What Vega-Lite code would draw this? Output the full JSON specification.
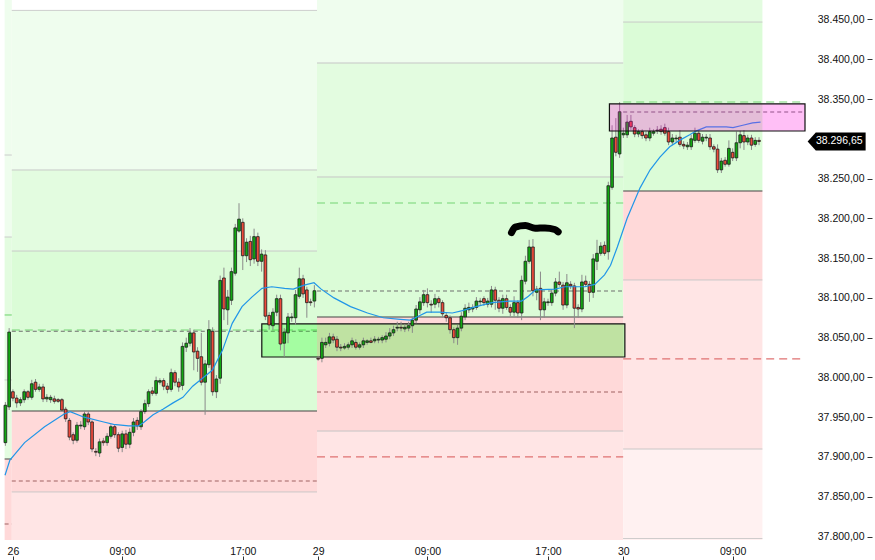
{
"$schema":"https://vega.github.io/schema/vega-lite/v6.json",
"width":810,"height":540,
"autosize":{"type":"none"},
"padding":{"left":0,"top":0,"right":65,"bottom":20},
"background":"white",
"config":{"view":{"stroke":null},"font":"Liberation Sans","locale":{"number":{"decimal":",","thousands":".","grouping":[3],"currency":["","€"]}},
 "axisX":{"orient":"bottom","labelExpr":"datum.value == 0 ? '26' : datum.value == 81 ? '29' : datum.value == 162 ? '30' : (datum.value == 29 || datum.value == 110 || datum.value == 191) ? '09:00' : '17:00'","offset":16,"tickSize":4,"labelPadding":-9,"labelBaseline":"middle","labelAlign":"center","labelFlush":false,"labelOverlap":false,"domain":false,"grid":false,"title":null,"labelFontSize":10.5,"labelColor":"#111","tickColor":"#333"},
 "axisY":{"orient":"right","format":",.2f","offset":57,"tickSize":5,"labelPadding":-8,"labelAlign":"right","labelBaseline":"middle","labelOverlap":false,"domain":false,"grid":false,"title":null,"labelFontSize":10.5,"labelColor":"#111","tickColor":"#333"}
},
"datasets":{
"zones":[
{"x1":-2.2,"x2":-0.3,"p1":38474.5,"p2":38176.5,"z":"G3"},
{"x1":-2.2,"x2":-0.3,"p1":38176.5,"p2":37897.4,"z":"G2"},
{"x1":-2.2,"x2":-0.3,"p1":37897.4,"p2":37795.6,"z":"R1"},
{"x1":-0.3,"x2":80.7,"p1":38461.4,"p2":38260.8,"z":"G3"},
{"x1":-0.3,"x2":80.7,"p1":38260.8,"p2":38158.9,"z":"G2"},
{"x1":-0.3,"x2":80.7,"p1":38158.9,"p2":37957.8,"z":"G1"},
{"x1":-0.3,"x2":80.7,"p1":37957.8,"p2":37856.0,"z":"R1"},
{"x1":-0.3,"x2":80.7,"p1":37856.0,"p2":37795.6,"z":"R2"},
{"x1":80.7,"x2":161.95,"p1":38474.5,"p2":38395.3,"z":"G3"},
{"x1":80.7,"x2":161.95,"p1":38395.3,"p2":38252.0,"z":"G2"},
{"x1":80.7,"x2":161.95,"p1":38252.0,"p2":38076.0,"z":"G1"},
{"x1":80.7,"x2":161.95,"p1":38076.0,"p2":37932.6,"z":"R1"},
{"x1":80.7,"x2":161.95,"p1":37932.6,"p2":37795.6,"z":"R2"},
{"x1":161.95,"x2":198.9,"p1":38474.5,"p2":38446.8,"z":"G2"},
{"x1":161.95,"x2":198.9,"p1":38446.8,"p2":38234.4,"z":"G1"},
{"x1":161.95,"x2":198.9,"p1":38234.4,"p2":38122.5,"z":"R1"},
{"x1":161.95,"x2":198.9,"p1":38122.5,"p2":37910.0,"z":"R2"},
{"x1":161.95,"x2":198.9,"p1":37910.0,"p2":37795.6,"z":"R3"}
],
"lines":[
{"x1":-0.3,"x2":80.7,"p":38461.4,"s":"gray"},
{"x1":-0.3,"x2":80.7,"p":38260.8,"s":"gray"},
{"x1":-0.3,"x2":80.7,"p":38158.9,"s":"gray"},
{"x1":-0.3,"x2":80.7,"p":37856.0,"s":"gray"},
{"x1":-0.3,"x2":80.7,"p":37957.8,"s":"dark"},
{"x1":80.7,"x2":161.95,"p":38395.3,"s":"gray"},
{"x1":80.7,"x2":161.95,"p":38252.0,"s":"gray"},
{"x1":80.7,"x2":161.95,"p":37932.6,"s":"gray"},
{"x1":80.7,"x2":161.95,"p":38076.0,"s":"dark"},
{"x1":161.95,"x2":198.9,"p":38446.8,"s":"gray"},
{"x1":161.95,"x2":198.9,"p":38122.5,"s":"gray"},
{"x1":161.95,"x2":198.9,"p":37910.0,"s":"gray"},
{"x1":161.95,"x2":198.9,"p":37797.5,"s":"gray"},
{"x1":161.95,"x2":198.9,"p":38234.4,"s":"dark"},
{"x1":-2.2,"x2":-0.3,"p":38279.6,"s":"gray"},
{"x1":-2.2,"x2":-0.3,"p":38176.5,"s":"gray"},
{"x1":-2.2,"x2":-0.3,"p":37996.8,"s":"gray"},
{"x1":-2.2,"x2":-0.3,"p":37897.4,"s":"dark"},
{"x1":-2.2,"x2":-0.3,"p":38078.5,"s":"gdash"},
{"x1":-0.3,"x2":80.7,"p":38059.6,"s":"gdash"},
{"x1":80.7,"x2":161.95,"p":38219.3,"s":"gdash"},
{"x1":161.95,"x2":210.2,"p":38346.3,"s":"gdash"},
{"x1":-0.3,"x2":80.7,"p":38058.0,"s":"kdash"},
{"x1":80.7,"x2":161.95,"p":38108.6,"s":"kdash"},
{"x1":161.95,"x2":210.2,"p":38333.7,"s":"kdash"},
{"x1":-0.3,"x2":80.7,"p":37869.8,"s":"rkdash"},
{"x1":80.7,"x2":161.95,"p":37981.7,"s":"rkdash"},
{"x1":-2.2,"x2":-0.3,"p":37815.7,"s":"rkdash"},
{"x1":80.7,"x2":161.95,"p":37900.0,"s":"rdash"},
{"x1":161.95,"x2":210.2,"p":38023.2,"s":"rdash"}
],
"boxes":[
{"x1":66.05,"x2":162.4,"p1":38067.2,"p2":38025.7,"b":"g"},
{"x1":158.3,"x2":210.2,"p1":38343.8,"p2":38309.8,"b":"p"}
],
"candles":[
{"i":-2,"o":37918,"h":37969,"l":37914,"c":37965},
{"i":-1,"o":37963,"h":38062,"l":37959,"c":38057},
{"i":0,"o":37982,"h":37985,"l":37970,"c":37974},
{"i":1,"o":37974,"h":37978,"l":37962,"c":37968},
{"i":2,"o":37968,"h":37975,"l":37964,"c":37972},
{"i":3,"o":37972,"h":37985,"l":37968,"c":37982},
{"i":4,"o":37982,"h":37984,"l":37972,"c":37975},
{"i":5,"o":37975,"h":37997,"l":37972,"c":37992},
{"i":6,"o":37994,"h":37998,"l":37982,"c":37985},
{"i":7,"o":37985,"h":37992,"l":37982,"c":37988},
{"i":8,"o":37988,"h":37992,"l":37969,"c":37973},
{"i":9,"o":37973,"h":37979,"l":37969,"c":37975},
{"i":10,"o":37972,"h":37978,"l":37968,"c":37975},
{"i":11,"o":37973,"h":37977,"l":37967,"c":37970},
{"i":12,"o":37972,"h":37974,"l":37968,"c":37970},
{"i":13,"o":37972,"h":37974,"l":37957,"c":37959},
{"i":14,"o":37960,"h":37963,"l":37944,"c":37948},
{"i":15,"o":37946,"h":37949,"l":37921,"c":37925},
{"i":16,"o":37928,"h":37931,"l":37916,"c":37921},
{"i":17,"o":37921,"h":37944,"l":37918,"c":37940},
{"i":18,"o":37939,"h":37945,"l":37935,"c":37940},
{"i":19,"o":37938,"h":37958,"l":37934,"c":37954},
{"i":20,"o":37954,"h":37958,"l":37940,"c":37944},
{"i":21,"o":37944,"h":37946,"l":37906,"c":37910},
{"i":22,"o":37907,"h":37911,"l":37901,"c":37906},
{"i":23,"o":37905,"h":37923,"l":37900,"c":37919},
{"i":24,"o":37920,"h":37924,"l":37914,"c":37918},
{"i":25,"o":37918,"h":37930,"l":37914,"c":37926},
{"i":26,"o":37926,"h":37941,"l":37923,"c":37938},
{"i":27,"o":37938,"h":37941,"l":37924,"c":37928},
{"i":28,"o":37928,"h":37931,"l":37906,"c":37911},
{"i":29,"o":37912,"h":37933,"l":37906,"c":37929},
{"i":30,"o":37929,"h":37934,"l":37910,"c":37916},
{"i":31,"o":37916,"h":37936,"l":37911,"c":37931},
{"i":32,"o":37931,"h":37949,"l":37926,"c":37944},
{"i":33,"o":37946,"h":37950,"l":37934,"c":37939},
{"i":34,"o":37938,"h":37960,"l":37934,"c":37957},
{"i":35,"o":37957,"h":37972,"l":37954,"c":37967},
{"i":36,"o":37967,"h":37985,"l":37963,"c":37982},
{"i":37,"o":37983,"h":37988,"l":37977,"c":37980},
{"i":38,"o":37980,"h":38001,"l":37977,"c":37996},
{"i":39,"o":37994,"h":37999,"l":37991,"c":37996},
{"i":40,"o":37996,"h":37999,"l":37984,"c":37989},
{"i":41,"o":37989,"h":37993,"l":37980,"c":37985},
{"i":42,"o":37985,"h":38011,"l":37982,"c":38006},
{"i":43,"o":38006,"h":38009,"l":37989,"c":37994},
{"i":44,"o":37994,"h":37999,"l":37982,"c":37988},
{"i":45,"o":37990,"h":38044,"l":37984,"c":38039},
{"i":46,"o":38038,"h":38050,"l":38032,"c":38043},
{"i":47,"o":38043,"h":38062,"l":38039,"c":38056},
{"i":48,"o":38056,"h":38060,"l":38009,"c":38032},
{"i":49,"o":38033,"h":38038,"l":38007,"c":38024},
{"i":50,"o":38026,"h":38056,"l":37990,"c":37994},
{"i":51,"o":37994,"h":38022,"l":37953,"c":38017},
{"i":52,"o":38016,"h":38072,"l":38012,"c":38060},
{"i":53,"o":38058,"h":38063,"l":37977,"c":37982},
{"i":54,"o":37982,"h":38003,"l":37974,"c":37998},
{"i":55,"o":37999,"h":38128,"l":37992,"c":38122},
{"i":56,"o":38125,"h":38138,"l":38072,"c":38086},
{"i":57,"o":38085,"h":38110,"l":38066,"c":38101},
{"i":58,"o":38097,"h":38138,"l":38091,"c":38133},
{"i":59,"o":38131,"h":38193,"l":38128,"c":38188},
{"i":60,"o":38184,"h":38219,"l":38182,"c":38199},
{"i":61,"o":38195,"h":38200,"l":38135,"c":38153},
{"i":62,"o":38153,"h":38175,"l":38145,"c":38170},
{"i":63,"o":38171,"h":38178,"l":38140,"c":38148},
{"i":64,"o":38149,"h":38187,"l":38143,"c":38177},
{"i":65,"o":38177,"h":38182,"l":38140,"c":38146},
{"i":66,"o":38146,"h":38161,"l":38133,"c":38155},
{"i":67,"o":38154,"h":38160,"l":38072,"c":38077},
{"i":68,"o":38078,"h":38082,"l":38060,"c":38066},
{"i":69,"o":38065,"h":38087,"l":38060,"c":38082},
{"i":70,"o":38082,"h":38104,"l":38077,"c":38099},
{"i":71,"o":38099,"h":38104,"l":38034,"c":38042},
{"i":72,"o":38043,"h":38062,"l":38026,"c":38057},
{"i":73,"o":38056,"h":38081,"l":38043,"c":38076},
{"i":74,"o":38075,"h":38081,"l":38070,"c":38076},
{"i":75,"o":38075,"h":38110,"l":38066,"c":38104},
{"i":76,"o":38102,"h":38138,"l":38099,"c":38124},
{"i":77,"o":38124,"h":38129,"l":38100,"c":38105},
{"i":78,"o":38110,"h":38114,"l":38075,"c":38094},
{"i":79,"o":38095,"h":38099,"l":38090,"c":38094},
{"i":80,"o":38096,"h":38116,"l":38088,"c":38109},
{"i":81,"o":38024,"h":38027,"l":38021,"c":38023},
{"i":82,"o":38024,"h":38050,"l":38019,"c":38044},
{"i":83,"o":38041,"h":38050,"l":38037,"c":38044},
{"i":84,"o":38043,"h":38056,"l":38039,"c":38051},
{"i":85,"o":38051,"h":38055,"l":38043,"c":38047},
{"i":86,"o":38048,"h":38052,"l":38033,"c":38038},
{"i":87,"o":38038,"h":38042,"l":38033,"c":38037},
{"i":88,"o":38037,"h":38043,"l":38035,"c":38039},
{"i":89,"o":38038,"h":38044,"l":38035,"c":38041},
{"i":90,"o":38041,"h":38050,"l":38037,"c":38046},
{"i":91,"o":38044,"h":38048,"l":38035,"c":38038},
{"i":92,"o":38038,"h":38044,"l":38035,"c":38041},
{"i":93,"o":38041,"h":38050,"l":38037,"c":38046},
{"i":94,"o":38044,"h":38048,"l":38041,"c":38046},
{"i":95,"o":38046,"h":38050,"l":38043,"c":38044},
{"i":96,"o":38046,"h":38052,"l":38043,"c":38048},
{"i":97,"o":38047,"h":38051,"l":38043,"c":38048},
{"i":98,"o":38047,"h":38053,"l":38043,"c":38050},
{"i":99,"o":38048,"h":38057,"l":38044,"c":38052},
{"i":100,"o":38052,"h":38062,"l":38048,"c":38056},
{"i":101,"o":38056,"h":38065,"l":38052,"c":38060},
{"i":102,"o":38062,"h":38070,"l":38058,"c":38063},
{"i":103,"o":38063,"h":38070,"l":38058,"c":38062},
{"i":104,"o":38061,"h":38067,"l":38057,"c":38063},
{"i":105,"o":38062,"h":38070,"l":38058,"c":38065},
{"i":106,"o":38065,"h":38076,"l":38056,"c":38072},
{"i":107,"o":38072,"h":38091,"l":38068,"c":38086},
{"i":108,"o":38085,"h":38101,"l":38080,"c":38095},
{"i":109,"o":38094,"h":38110,"l":38090,"c":38104},
{"i":110,"o":38104,"h":38112,"l":38088,"c":38094},
{"i":111,"o":38092,"h":38097,"l":38081,"c":38091},
{"i":112,"o":38092,"h":38105,"l":38087,"c":38099},
{"i":113,"o":38099,"h":38102,"l":38088,"c":38094},
{"i":114,"o":38094,"h":38097,"l":38075,"c":38080},
{"i":115,"o":38078,"h":38082,"l":38070,"c":38075},
{"i":116,"o":38075,"h":38078,"l":38055,"c":38060},
{"i":117,"o":38060,"h":38063,"l":38043,"c":38050},
{"i":118,"o":38050,"h":38066,"l":38041,"c":38062},
{"i":119,"o":38062,"h":38082,"l":38058,"c":38077},
{"i":120,"o":38076,"h":38092,"l":38072,"c":38087},
{"i":121,"o":38085,"h":38094,"l":38081,"c":38088},
{"i":122,"o":38086,"h":38092,"l":38082,"c":38088},
{"i":123,"o":38088,"h":38101,"l":38085,"c":38096},
{"i":124,"o":38095,"h":38100,"l":38091,"c":38096},
{"i":125,"o":38099,"h":38102,"l":38090,"c":38094},
{"i":126,"o":38092,"h":38100,"l":38088,"c":38096},
{"i":127,"o":38092,"h":38115,"l":38088,"c":38110},
{"i":128,"o":38110,"h":38114,"l":38085,"c":38097},
{"i":129,"o":38097,"h":38101,"l":38082,"c":38087},
{"i":130,"o":38087,"h":38104,"l":38080,"c":38099},
{"i":131,"o":38099,"h":38104,"l":38085,"c":38088},
{"i":132,"o":38088,"h":38092,"l":38077,"c":38082},
{"i":133,"o":38082,"h":38102,"l":38077,"c":38094},
{"i":134,"o":38094,"h":38097,"l":38075,"c":38081},
{"i":135,"o":38081,"h":38128,"l":38072,"c":38122},
{"i":136,"o":38121,"h":38153,"l":38117,"c":38146},
{"i":137,"o":38146,"h":38173,"l":38143,"c":38164},
{"i":138,"o":38164,"h":38174,"l":38102,"c":38109},
{"i":139,"o":38107,"h":38115,"l":38097,"c":38111},
{"i":140,"o":38112,"h":38133,"l":38072,"c":38085},
{"i":141,"o":38085,"h":38100,"l":38075,"c":38095},
{"i":142,"o":38094,"h":38099,"l":38090,"c":38095},
{"i":143,"o":38094,"h":38111,"l":38090,"c":38106},
{"i":144,"o":38106,"h":38125,"l":38102,"c":38120},
{"i":145,"o":38120,"h":38133,"l":38114,"c":38117},
{"i":146,"o":38116,"h":38120,"l":38085,"c":38091},
{"i":147,"o":38091,"h":38130,"l":38087,"c":38119},
{"i":148,"o":38117,"h":38121,"l":38111,"c":38115},
{"i":149,"o":38115,"h":38119,"l":38062,"c":38087},
{"i":150,"o":38088,"h":38092,"l":38075,"c":38086},
{"i":151,"o":38086,"h":38129,"l":38082,"c":38120},
{"i":152,"o":38121,"h":38128,"l":38114,"c":38117},
{"i":153,"o":38117,"h":38121,"l":38095,"c":38107},
{"i":154,"o":38107,"h":38155,"l":38100,"c":38149},
{"i":155,"o":38146,"h":38173,"l":38135,"c":38156},
{"i":156,"o":38156,"h":38170,"l":38153,"c":38165},
{"i":157,"o":38166,"h":38171,"l":38153,"c":38156},
{"i":158,"o":38158,"h":38246,"l":38148,"c":38241},
{"i":159,"o":38239,"h":38317,"l":38236,"c":38301},
{"i":160,"o":38302,"h":38326,"l":38278,"c":38283},
{"i":161,"o":38281,"h":38346,"l":38276,"c":38334},
{"i":162,"o":38305,"h":38314,"l":38301,"c":38307},
{"i":163,"o":38305,"h":38330,"l":38301,"c":38321},
{"i":164,"o":38322,"h":38330,"l":38311,"c":38315},
{"i":165,"o":38314,"h":38317,"l":38302,"c":38306},
{"i":166,"o":38306,"h":38312,"l":38302,"c":38309},
{"i":167,"o":38309,"h":38312,"l":38300,"c":38304},
{"i":168,"o":38305,"h":38309,"l":38297,"c":38301},
{"i":169,"o":38301,"h":38314,"l":38297,"c":38309},
{"i":170,"o":38307,"h":38312,"l":38304,"c":38309},
{"i":171,"o":38310,"h":38316,"l":38306,"c":38311},
{"i":172,"o":38312,"h":38317,"l":38305,"c":38309},
{"i":173,"o":38314,"h":38319,"l":38304,"c":38307},
{"i":174,"o":38309,"h":38314,"l":38292,"c":38296},
{"i":175,"o":38296,"h":38306,"l":38292,"c":38301},
{"i":176,"o":38300,"h":38305,"l":38296,"c":38301},
{"i":177,"o":38302,"h":38311,"l":38290,"c":38293},
{"i":178,"o":38293,"h":38297,"l":38287,"c":38291},
{"i":179,"o":38290,"h":38296,"l":38286,"c":38292},
{"i":180,"o":38290,"h":38305,"l":38286,"c":38300},
{"i":181,"o":38298,"h":38314,"l":38295,"c":38307},
{"i":182,"o":38307,"h":38311,"l":38295,"c":38298},
{"i":183,"o":38297,"h":38306,"l":38293,"c":38302},
{"i":184,"o":38301,"h":38306,"l":38297,"c":38302},
{"i":185,"o":38301,"h":38306,"l":38286,"c":38290},
{"i":186,"o":38290,"h":38293,"l":38283,"c":38287},
{"i":187,"o":38287,"h":38293,"l":38257,"c":38261},
{"i":188,"o":38261,"h":38276,"l":38257,"c":38272},
{"i":189,"o":38273,"h":38277,"l":38265,"c":38268},
{"i":190,"o":38268,"h":38298,"l":38265,"c":38288},
{"i":191,"o":38283,"h":38288,"l":38272,"c":38276},
{"i":192,"o":38276,"h":38309,"l":38272,"c":38295},
{"i":193,"o":38295,"h":38310,"l":38288,"c":38305},
{"i":194,"o":38304,"h":38311,"l":38286,"c":38296},
{"i":195,"o":38296,"h":38305,"l":38292,"c":38301},
{"i":196,"o":38301,"h":38305,"l":38286,"c":38292},
{"i":197,"o":38293,"h":38302,"l":38290,"c":38298},
{"i":198,"o":38298,"h":38302,"l":38292,"c":38296.65}
],
"ma":[{"i":-2.1,"p":37877},{"i":-0.8,"p":37896},{"i":3.1,"p":37918},{"i":8.4,"p":37938},{"i":13.6,"p":37954},{"i":15.2,"p":37957},{"i":18.9,"p":37950},{"i":24.1,"p":37944},{"i":26.7,"p":37941},{"i":30.7,"p":37939},{"i":33.3,"p":37939},{"i":34.6,"p":37943},{"i":37.2,"p":37953},{"i":39.8,"p":37960},{"i":42.5,"p":37968},{"i":45.1,"p":37975},{"i":47.7,"p":37989},{"i":50.3,"p":37999},{"i":52.9,"p":38009},{"i":55.6,"p":38034},{"i":58.2,"p":38068},{"i":60.8,"p":38089},{"i":63.4,"p":38101},{"i":66.1,"p":38112},{"i":68.7,"p":38114},{"i":72.1,"p":38112},{"i":74.4,"p":38111},{"i":77.3,"p":38116},{"i":79.9,"p":38119},{"i":81.8,"p":38111},{"i":85.2,"p":38100},{"i":89.6,"p":38089},{"i":94.1,"p":38081},{"i":98.3,"p":38075},{"i":102.8,"p":38073},{"i":105.4,"p":38072},{"i":107.2,"p":38076},{"i":109.8,"p":38082},{"i":113.2,"p":38082},{"i":116.6,"p":38081},{"i":119.3,"p":38084},{"i":122.9,"p":38089},{"i":127.1,"p":38094},{"i":131.6,"p":38096},{"i":135.0,"p":38096},{"i":136.8,"p":38102},{"i":138.7,"p":38110},{"i":143.9,"p":38111},{"i":146.5,"p":38114},{"i":151.8,"p":38114},{"i":154.4,"p":38117},{"i":157.0,"p":38129},{"i":158.6,"p":38141},{"i":160.4,"p":38164},{"i":163.0,"p":38200},{"i":166.4,"p":38238},{"i":169.1,"p":38261},{"i":171.7,"p":38277},{"i":174.3,"p":38290},{"i":176.9,"p":38298},{"i":179.6,"p":38305},{"i":181.4,"p":38310},{"i":184.0,"p":38315},{"i":186.6,"p":38315},{"i":189.3,"p":38315},{"i":191.1,"p":38314},{"i":193.7,"p":38317},{"i":196.3,"p":38320},{"i":198.4,"p":38321}],
"squiggle":[{"i":132.3,"p":38182},{"i":133.3,"p":38189},{"i":136.0,"p":38191},{"i":138.6,"p":38187.5},{"i":141.2,"p":38188},{"i":143.8,"p":38186},{"i":144.7,"p":38183}],
"last":[{"p":38296.65}]
},
"layer":[
{"data":{"name":"zones"},
 "mark":{"type":"rect","clip":true},
 "encoding":{
  "x":{"field":"x1","type":"quantitative","title":null,"axis":{"values":[0,29,61,81,110,142,162,191],"labelFlush":false,"labelAlign":"center"},"scale":{"domain":[-2.1,210.2],"nice":false,"zero":false}},
  "x2":{"field":"x2"},
  "y":{"field":"p1","type":"quantitative","title":null,"axis":{"values":[37800,37850,37900,37950,38000,38050,38100,38150,38200,38250,38350,38400,38450]},"scale":{"domain":[37795.6,38474.5],"nice":false,"zero":false}},
  "y2":{"field":"p2"},
  "fill":{"field":"z","type":"nominal","scale":{"domain":["G1","G2","G3","R1","R2","R3"],"range":["#dbfcd7","#e3fce0","#effdee","#ffd9d9","#ffe5e5","#fff1f1"]},"legend":null}
 }},
{"data":{"name":"lines"},
 "mark":{"type":"rule","clip":true},
 "encoding":{
  "x":{"field":"x1","type":"quantitative","title":null,"axis":{"values":[0,29,61,81,110,142,162,191],"labelFlush":false,"labelAlign":"center"},"scale":{"domain":[-2.1,210.2],"nice":false,"zero":false}},
  "x2":{"field":"x2"},
  "y":{"field":"p","type":"quantitative","title":null,"axis":{"values":[37800,37850,37900,37950,38000,38050,38100,38150,38200,38250,38350,38400,38450]},"scale":{"domain":[37795.6,38474.5],"nice":false,"zero":false}},
  "stroke":{"field":"s","type":"nominal","scale":{"domain":["gray","dark","gdash","kdash","rkdash","rdash"],"range":["#c6c6c6","#444444","#74d474","#6e6e6e","#a06262","#e07272"]},"legend":null},
  "strokeDash":{"field":"s","type":"nominal","scale":{"domain":["gray","dark","gdash","kdash","rkdash","rdash"],"range":[[1,0],[1,0],[8,5],[4,3],[4,3],[8,5]]},"legend":null},
  "strokeWidth":{"field":"s","type":"nominal","scale":{"domain":["gray","dark","gdash","kdash","rkdash","rdash"],"range":[1,1.2,3,1,1,2.5]},"legend":null}
 }},
{"data":{"name":"boxes"},
 "transform":[{"filter":"datum.b == 'g'"}],
 "mark":{"type":"rect","clip":true,"fill":"#00ff00","fillOpacity":0.25,"stroke":"#111","strokeWidth":1.2},
 "encoding":{
  "x":{"field":"x1","type":"quantitative","title":null,"axis":{"values":[0,29,61,81,110,142,162,191],"labelFlush":false,"labelAlign":"center"},"scale":{"domain":[-2.1,210.2],"nice":false,"zero":false}},
  "x2":{"field":"x2"},
  "y":{"field":"p1","type":"quantitative","title":null,"axis":{"values":[37800,37850,37900,37950,38000,38050,38100,38150,38200,38250,38350,38400,38450]},"scale":{"domain":[37795.6,38474.5],"nice":false,"zero":false}},
  "y2":{"field":"p2"}
 }},
{"data":{"name":"candles"},
 "mark":{"type":"rule","clip":true,"color":"#8a8a8a","strokeWidth":1},
 "encoding":{
  "x":{"field":"i","type":"quantitative","title":null,"axis":{"values":[0,29,61,81,110,142,162,191],"labelFlush":false,"labelAlign":"center"},"scale":{"domain":[-2.1,210.2],"nice":false,"zero":false}},
  "y":{"field":"l","type":"quantitative","title":null,"axis":{"values":[37800,37850,37900,37950,38000,38050,38100,38150,38200,38250,38350,38400,38450]},"scale":{"domain":[37795.6,38474.5],"nice":false,"zero":false}},
  "y2":{"field":"h"}
 }},
{"data":{"name":"candles"},
 "mark":{"type":"bar","clip":true,"size":2.7,"stroke":"#1a1a1a","strokeWidth":0.8},
 "encoding":{
  "x":{"field":"i","type":"quantitative","title":null,"axis":{"values":[0,29,61,81,110,142,162,191],"labelFlush":false,"labelAlign":"center"},"scale":{"domain":[-2.1,210.2],"nice":false,"zero":false}},
  "y":{"field":"o","type":"quantitative","title":null,"axis":{"values":[37800,37850,37900,37950,38000,38050,38100,38150,38200,38250,38350,38400,38450]},"scale":{"domain":[37795.6,38474.5],"nice":false,"zero":false}},
  "y2":{"field":"c"},
  "fill":{"condition":{"test":"datum.c >= datum.o","value":"#12a812"},"value":"#ee4a3c"}
 }},
{"data":{"name":"ma"},
 "mark":{"type":"line","clip":true,"color":"#2196e8","strokeWidth":1.2},
 "encoding":{
  "x":{"field":"i","type":"quantitative","title":null,"axis":{"values":[0,29,61,81,110,142,162,191],"labelFlush":false,"labelAlign":"center"},"scale":{"domain":[-2.1,210.2],"nice":false,"zero":false}},
  "y":{"field":"p","type":"quantitative","title":null,"axis":{"values":[37800,37850,37900,37950,38000,38050,38100,38150,38200,38250,38350,38400,38450]},"scale":{"domain":[37795.6,38474.5],"nice":false,"zero":false}}
 }},
{"data":{"name":"boxes"},
 "transform":[{"filter":"datum.b == 'p'"}],
 "mark":{"type":"rect","clip":true,"fill":"#ff00dd","fillOpacity":0.25,"stroke":"#111","strokeWidth":1.2},
 "encoding":{
  "x":{"field":"x1","type":"quantitative","title":null,"axis":{"values":[0,29,61,81,110,142,162,191],"labelFlush":false,"labelAlign":"center"},"scale":{"domain":[-2.1,210.2],"nice":false,"zero":false}},
  "x2":{"field":"x2"},
  "y":{"field":"p1","type":"quantitative","title":null,"axis":{"values":[37800,37850,37900,37950,38000,38050,38100,38150,38200,38250,38350,38400,38450]},"scale":{"domain":[37795.6,38474.5],"nice":false,"zero":false}},
  "y2":{"field":"p2"}
 }},
{"data":{"name":"squiggle"},
 "mark":{"type":"line","clip":true,"color":"#000000","strokeWidth":7,"strokeCap":"round","strokeJoin":"round","interpolate":"monotone"},
 "encoding":{
  "x":{"field":"i","type":"quantitative","title":null,"axis":{"values":[0,29,61,81,110,142,162,191],"labelFlush":false,"labelAlign":"center"},"scale":{"domain":[-2.1,210.2],"nice":false,"zero":false}},
  "y":{"field":"p","type":"quantitative","title":null,"axis":{"values":[37800,37850,37900,37950,38000,38050,38100,38150,38200,38250,38350,38400,38450]},"scale":{"domain":[37795.6,38474.5],"nice":false,"zero":false}}
 }},
{"data":{"name":"last"},
 "mark":{"type":"point","filled":true,"fill":"#000000","fillOpacity":1,"strokeWidth":0,"size":3364,"shape":"M -1 0 L -0.72 -0.31 L 1 -0.31 L 1 0.31 L -0.72 0.31 Z"},
 "encoding":{
  "x":{"datum":218.6,"type":"quantitative","title":null,"axis":{"values":[0,29,61,81,110,142,162,191],"labelFlush":false,"labelAlign":"center"},"scale":{"domain":[-2.1,210.2],"nice":false,"zero":false}},
  "y":{"field":"p","type":"quantitative","title":null,"axis":{"values":[37800,37850,37900,37950,38000,38050,38100,38150,38200,38250,38350,38400,38450]},"scale":{"domain":[37795.6,38474.5],"nice":false,"zero":false}}
 }},
{"data":{"name":"last"},
 "mark":{"type":"text","color":"#ffffff","fontSize":10.5,"align":"center","baseline":"middle"},
 "encoding":{
  "x":{"datum":219.3,"type":"quantitative","title":null,"axis":{"values":[0,29,61,81,110,142,162,191],"labelFlush":false,"labelAlign":"center"},"scale":{"domain":[-2.1,210.2],"nice":false,"zero":false}},
  "y":{"field":"p","type":"quantitative","title":null,"axis":{"values":[37800,37850,37900,37950,38000,38050,38100,38150,38200,38250,38350,38400,38450]},"scale":{"domain":[37795.6,38474.5],"nice":false,"zero":false}},
  "text":{"field":"p","type":"quantitative","format":",.2f"}
 }}
]
}
